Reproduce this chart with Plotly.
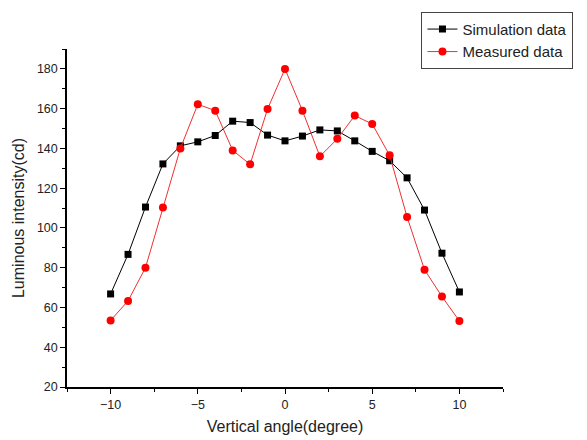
import plotly.graph_objects as go

angles = [-10, -9, -8, -7, -6, -5, -4, -3, -2, -1, 0, 1, 2, 3, 4, 5, 6, 7, 8, 9, 10]
simulation = [66.8, 86.7, 110.5, 132.2, 141.3, 143.3, 146.5, 153.7, 153.0, 146.7, 143.8,
              146.2, 149.3, 148.8, 143.8, 138.5, 133.8, 125.2, 109.0, 87.3, 67.8]
measured = [53.5, 63.3, 80.0, 110.3, 140.0, 162.2, 159.0, 139.0, 132.0, 159.8, 180.0,
            159.0, 136.0, 144.8, 156.5, 152.3, 136.5, 105.5, 79.0, 65.5, 53.2]
x_ticks = [-10, -5, 0, 5, 10]
y_ticks = [20, 40, 60, 80, 100, 120, 140, 160, 180]

font = "Liberation Sans, Arial, sans-serif"

fig = go.Figure()
fig.add_trace(go.Scatter(
    x=angles, y=simulation, name="Simulation data", mode="lines+markers",
    line=dict(color="black", width=1),
    marker=dict(symbol="square", size=7, color="black"),
))
fig.add_trace(go.Scatter(
    x=angles, y=measured, name="Measured data", mode="lines+markers",
    line=dict(color="#f03030", width=1),
    marker=dict(symbol="circle", size=8, color="#ff0000"),
))

fig.update_layout(
    width=587, height=440,
    margin=dict(l=67, r=84, t=47, b=53),
    paper_bgcolor="white", plot_bgcolor="white",
    font=dict(family=font, size=12, color="#222222"),
    showlegend=True,
    legend=dict(
        x=0.813, y=1.11, xanchor="left", yanchor="top",
        bgcolor="white", bordercolor="#444444", borderwidth=1,
        font=dict(family=font, size=15, color="#222222"),
        tracegroupgap=0, itemwidth=30,
    ),
)
fig.update_xaxes(
    range=[-12.5, 12.5], tickvals=x_ticks, ticks="outside", ticklen=5, tickwidth=1,
    tickcolor="black", showline=True, linecolor="black", linewidth=1.5,
    showgrid=False, zeroline=False, automargin=False,
    minor=dict(tickvals=[-12.5, -7.5, -2.5, 2.5, 7.5, 12.5], ticks="outside", ticklen=3, tickcolor="black"),
    title=dict(text="Vertical angle(degree)", font=dict(family=font, size=16, color="#222222"), standoff=10),
    tickfont=dict(size=12.5),
)
fig.update_yaxes(
    range=[20, 190], tickvals=y_ticks, ticks="outside", ticklen=5, tickwidth=1,
    tickcolor="black", showline=True, linecolor="black", linewidth=1.5,
    showgrid=False, zeroline=False, automargin=False,
    minor=dict(tickvals=[30, 50, 70, 90, 110, 130, 150, 170, 190], ticks="outside", ticklen=3, tickcolor="black"),
    title=dict(text="Luminous intensity(cd)", font=dict(family=font, size=16, color="#222222"), standoff=8),
    tickfont=dict(size=12.5),
)

fig.write_html("out.html", config={"displayModeBar": False},
               post_script="document.body.style.margin='0';document.body.style.padding='0';")
